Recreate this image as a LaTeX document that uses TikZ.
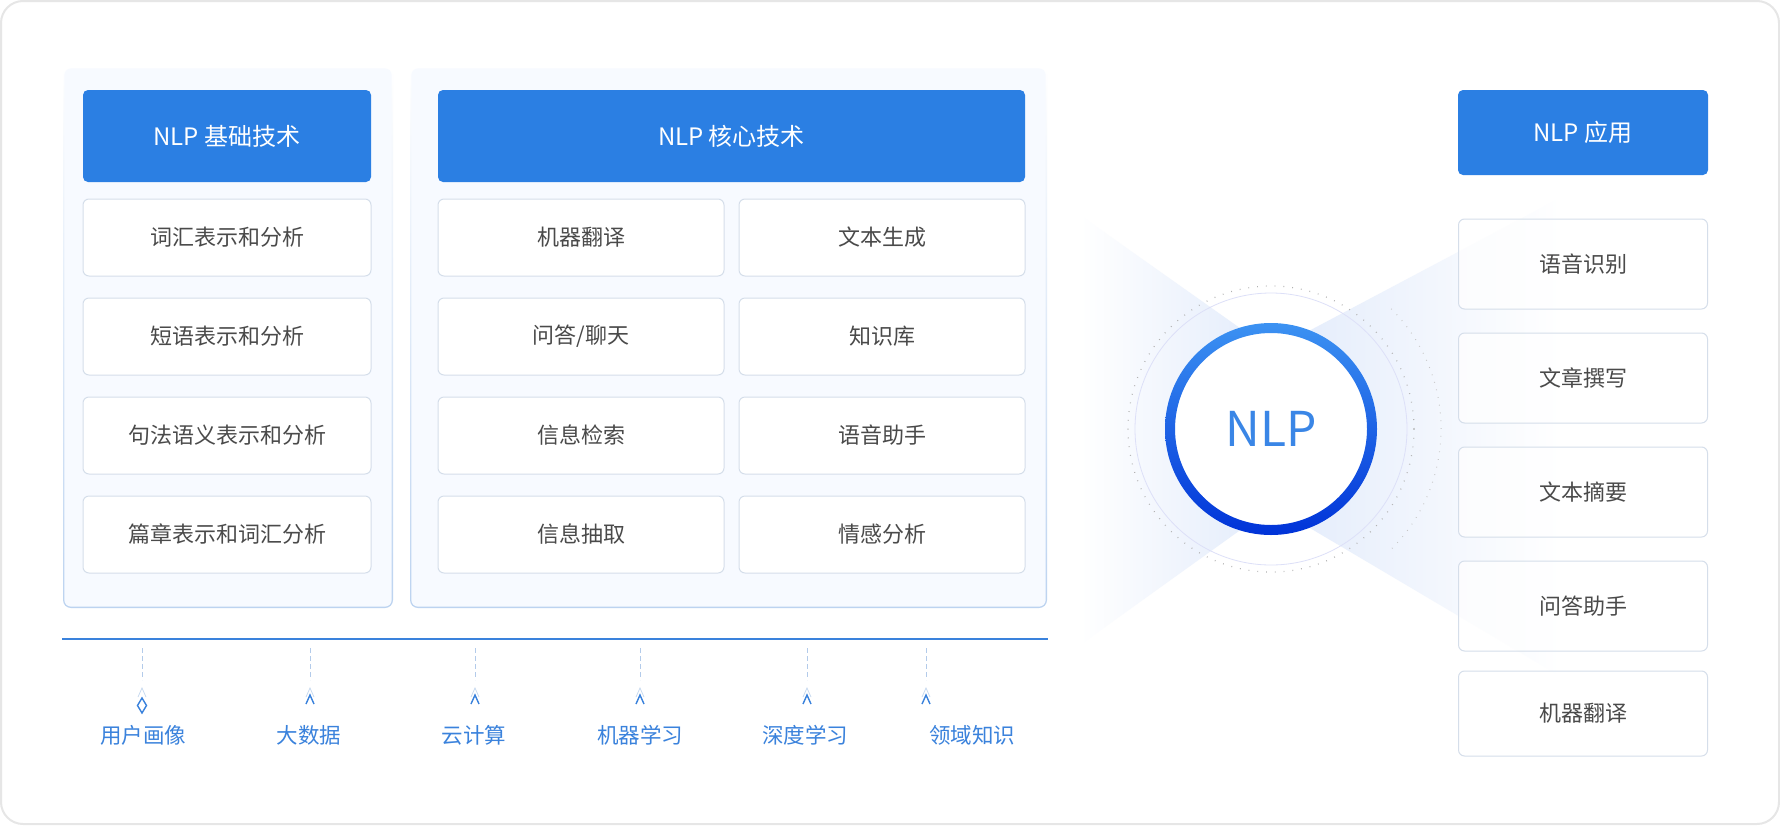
\documentclass[tikz,border=0pt]{standalone}
\usepackage{fontspec}
\setmainfont{Noto Sans CJK SC}
\definecolor{nlpblue}{HTML}{2B7FE3}
\definecolor{nlptext}{HTML}{3A86E6}
\definecolor{itemline}{HTML}{D5DEEA}
\definecolor{itemtext}{HTML}{4A4A4A}
\definecolor{panelbg}{HTML}{F7FAFF}
\definecolor{panelline}{HTML}{BCD3F0}
\definecolor{tagblue}{HTML}{3A82DC}
\definecolor{dashblue}{HTML}{B3CBEA}
\definecolor{beam}{HTML}{E2EBFB}
\definecolor{ringtop}{HTML}{3C92F2}
\definecolor{ringbot}{HTML}{0033D8}
\definecolor{framegray}{HTML}{E6E6E6}
\begin{document}
\begin{tikzpicture}[x=1pt,y=-1pt,
	head/.style={fill=nlpblue,rounded corners=5pt,text=white,inner sep=0pt,
		font=\fontsize{24}{28}\selectfont,minimum height=92pt},
	item/.style={draw=itemline,line width=1pt,fill=white,rounded corners=6pt,inner sep=0pt,
		text=itemtext,font=\fontsize{22}{26}\selectfont,minimum height=77pt},
	tag/.style={text=tagblue,inner sep=0pt,font=\fontsize{21.5}{26}\selectfont},
	dashline/.style={dashblue,line width=1pt,dash pattern=on 5pt off 3pt},
	chev/.style={tagblue,line width=1.4pt},
	chevlight/.style={dashblue!70,line width=0.8pt}]
	\useasboundingbox (0,0) rectangle (1780,825);
	\draw[framegray,line width=2pt,fill=white,rounded corners=22pt] (1,1) rectangle (1779,824);
	% panels
	\shade[top color=white,bottom color=panelline,rounded corners=8pt] (63,67) rectangle (393,608);
	\fill[panelbg,rounded corners=7pt] (64.3,68.3) rectangle (391.7,606.7);
	\shade[top color=white,bottom color=panelline,rounded corners=8pt] (410,67) rectangle (1047,608);
	\fill[panelbg,rounded corners=7pt] (411.3,68.3) rectangle (1045.7,606.7);
	% beams
	\coordinate (core) at (1271,429);
	\shade[left color=white,right color=beam] (1080,215) -- (1271,350) -- (1271,508) -- (1080,645) -- cycle;
	\shade[left color=beam,right color=white] (1271,351) -- (1560,198) -- (1560,676) -- (1271,505) -- cycle;
	\draw[itemline!80!blue!40,line width=0.8pt] (core) circle (136);
	\draw[gray!60,line width=1.2pt,dash pattern=on 0.8pt off 8pt] (core) circle (143);
	\draw[gray!45,line width=1pt,dash pattern=on 0.8pt off 7pt] (core) ++(-45:170) arc (-45:45:170);
	\fill[white] (core) circle (96);
	\shade[top color=ringtop,bottom color=ringbot,even odd rule] (core) circle (106) circle (96);
	\node[text=nlptext,font=\fontsize{48}{56}\selectfont] (nlp) at (core) {NLP};
	% left column
	\node[head,minimum width=288pt] (base) at (227,136) {NLP 基础技术};
	\foreach \txt [count=\i] in {词汇表示和分析,短语表示和分析,句法语义表示和分析,篇章表示和词汇分析}
		\node[item,minimum width=288pt] (base\i) at (227,138.5+99*\i) {\txt};
	% middle column
	\node[head,minimum width=587pt] (core head) at (731.5,136) {NLP 核心技术};
	\foreach \a/\b [count=\i] in {机器翻译/文本生成,{问答/聊天}/知识库,信息检索/语音助手,信息抽取/情感分析} {
		\node[item,minimum width=286pt] (corel\i) at (581,138.5+99*\i) {\a};
		\node[item,minimum width=286pt] (corer\i) at (882,138.5+99*\i) {\b};
	}
	% right column
	\node[head,minimum width=250pt,minimum height=85pt] (app) at (1583,132.5) {NLP 应用};
	\foreach \y/\h/\txt [count=\i] in {264/90/语音识别,378/90/文章撰写,492/90/文本摘要,606/90/问答助手,713.5/85/机器翻译}
		\node[item,fill opacity=0.7,text opacity=1,minimum width=249pt,minimum height=\h pt] (app\i) at (1583,\y) {\txt};
	% bottom
	\draw[tagblue,line width=2.5pt] (62,639) coordinate (line w) -- (1048,639) coordinate (line e);
	\foreach \x/\lx/\txt [count=\i] in {142/143/用户画像,310/309/大数据,475/474/云计算,640/640/机器学习,807/805/深度学习,926/972/领域知识} {
		\coordinate (top\i) at (\x,648);
		\coordinate (tip\i) at (\x,680);
		\draw[dashline] (top\i) -- (tip\i);
		\node[tag] (lab\i) at (\lx,735) {\txt};
		\draw[chevlight] (\x-4,697) -- (\x,688) -- (\x+4,697);
		\ifnum\i=1
			\draw[chev] (\x,698) -- (\x+4.5,705.5) -- (\x,713) -- (\x-4.5,705.5) -- cycle;
		\else
			\draw[chev] (\x-4,704) -- (\x,695) -- (\x+4,704);
		\fi
	}
\end{tikzpicture}
\end{document}
